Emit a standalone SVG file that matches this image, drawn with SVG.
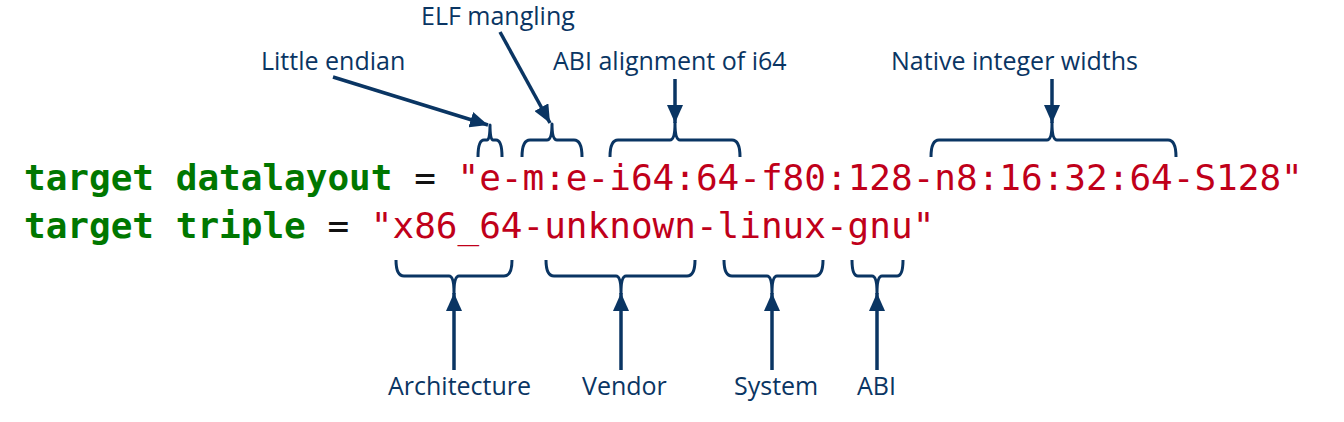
<svg xmlns="http://www.w3.org/2000/svg" width="1344" height="422" viewBox="0 0 1344 422">
<style>
.code{font-family:"DejaVu Sans Mono","Liberation Mono",monospace;font-size:36px}
.kw{fill:#007700;font-weight:bold}
.op{fill:#111}
.str{fill:#c0001a}
.lbl{font-family:"Open Sans","Noto Sans",sans-serif;font-size:25px;fill:#0a3563}
.br{fill:none;stroke:#0a3563;stroke-width:3;stroke-linejoin:round}
.ar{fill:none;stroke:#0a3563;stroke-width:3.5}
</style>
<defs>
<marker id="at" markerWidth="18" markerHeight="16" viewBox="0 0 18 16" refX="18" refY="8" orient="auto" markerUnits="userSpaceOnUse">
<path d="M0,0 L18,8 L0,16 Z" fill="#0a3563"/>
</marker>
</defs>
<g id="code">
<text class="code" x="24" y="190"><tspan class="kw">target datalayout</tspan><tspan class="op"> = </tspan><tspan class="str">"e-m:e-i64:64-f80:128-n8:16:32:64-S128"</tspan></text>
<text class="code" x="24" y="238"><tspan class="kw">target triple</tspan><tspan class="op"> = </tspan><tspan class="str">"x86_64-unknown-linux-gnu"</tspan></text>
</g>
<g id="little-endian">
<text class="lbl" x="261" y="70">Little endian</text>
<path class="br" d="M478,157 Q478,140 484,140 H487 Q490,140 490,125 Q490,140 493,140 H496 Q502,140 502,157"/>
</g>
<g id="elf-mangling">
<text class="lbl" x="421" y="25">ELF mangling</text>
<path class="br" d="M522,157 Q522,140 530,140 H547 Q552,140 552,124 Q552,140 557,140 H574 Q582,140 582,157"/>
</g>
<g id="abi-alignment">
<text class="lbl" x="553" y="70">ABI alignment of i64</text>
<path class="br" d="M610,157 Q610,140 618,140 H670 Q675,140 675,123 Q675,140 680,140 H732 Q740,140 740,157"/>
</g>
<g id="native-widths">
<text class="lbl" x="891" y="70">Native integer widths</text>
<path class="br" d="M931,157 Q931,140 939,140 H1047 Q1052,140 1052,123 Q1052,140 1057,140 H1168 Q1176,140 1176,157"/>
</g>
<g id="architecture">
<text class="lbl" x="388" y="395">Architecture</text>
<path class="br" d="M396,260 Q396,276 404,276 H449 Q454,276 454,293 Q454,276 459,276 H504 Q512,276 512,260"/>
</g>
<g id="vendor">
<text class="lbl" x="582" y="395">Vendor</text>
<path class="br" d="M546,260 Q546,276 554,276 H616 Q621,276 621,293 Q621,276 626,276 H687 Q695,276 695,260"/>
</g>
<g id="system">
<text class="lbl" x="734" y="395">System</text>
<path class="br" d="M724,260 Q724,276 732,276 H767 Q772,276 772,293 Q772,276 777,276 H815 Q823,276 823,260"/>
</g>
<g id="abi">
<text class="lbl" x="857" y="395">ABI</text>
<path class="br" d="M852,260 Q852,276 858,276 H872 Q877,276 877,293 Q877,276 882,276 H897 Q903,276 903,260"/>
</g>
<g id="connectors">
<line class="ar" x1="333" y1="77" x2="488" y2="125" marker-end="url(#at)"/>
<line class="ar" x1="500" y1="32" x2="550" y2="123" marker-end="url(#at)"/>
<line class="ar" x1="675" y1="79" x2="675" y2="123" marker-end="url(#at)"/>
<line class="ar" x1="1052" y1="79" x2="1052" y2="123" marker-end="url(#at)"/>
<line class="ar" x1="454" y1="370" x2="454" y2="293" marker-end="url(#at)"/>
<line class="ar" x1="621" y1="370" x2="621" y2="293" marker-end="url(#at)"/>
<line class="ar" x1="772" y1="370" x2="772" y2="293" marker-end="url(#at)"/>
<line class="ar" x1="877" y1="370" x2="877" y2="293" marker-end="url(#at)"/>
</g>
</svg>
